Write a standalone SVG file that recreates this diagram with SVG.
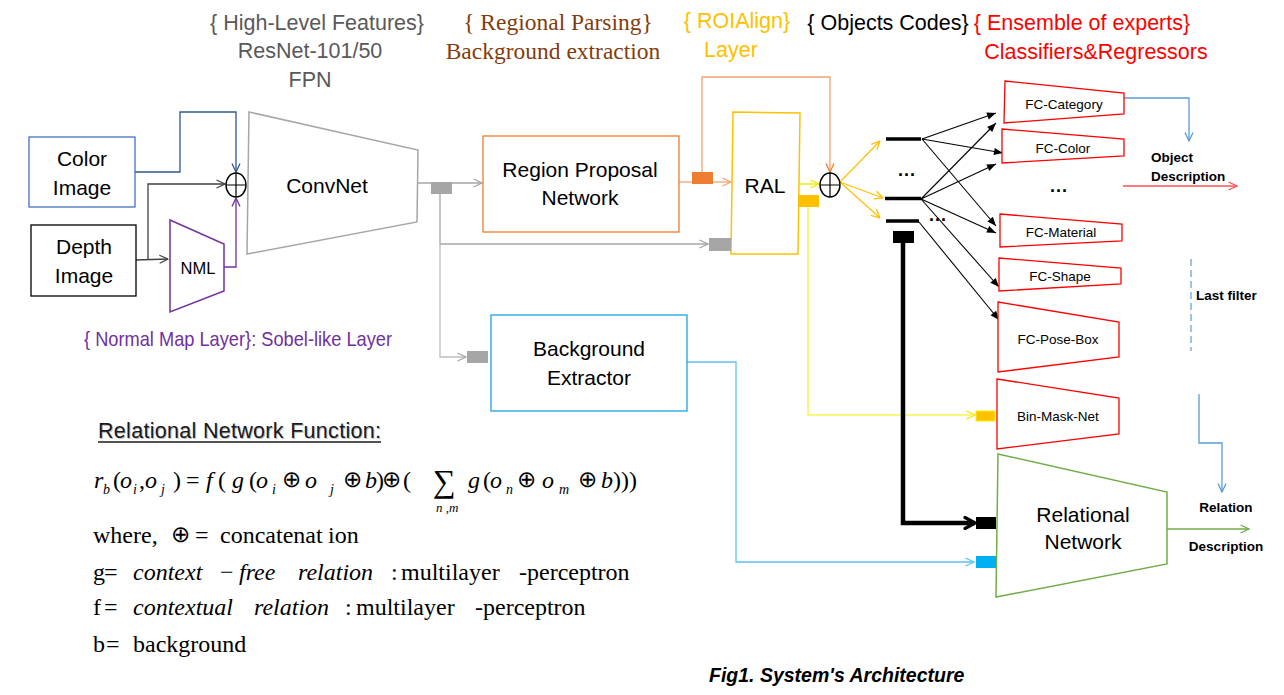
<svg xmlns="http://www.w3.org/2000/svg" width="1284" height="695" viewBox="0 0 1284 695">
<style>
.sans{font-family:"Liberation Sans",Arial,sans-serif;}
.lbl{font-family:"Liberation Sans",Arial,sans-serif;font-size:21px;fill:#000;text-anchor:middle;}
.fc{font-family:"Liberation Sans",Arial,sans-serif;font-size:13.5px;fill:#000;text-anchor:middle;}
.bold{font-family:"Liberation Sans",Arial,sans-serif;font-size:13.5px;font-weight:bold;fill:#000;}
.top{font-family:"Liberation Sans",Arial,sans-serif;font-size:21.5px;text-anchor:middle;}
.m{font-family:"Liberation Serif","Times New Roman","DejaVu Serif",serif;font-size:24px;fill:#000;}
.i{font-style:italic;}
.sub{font-size:14px;font-style:italic;}
.op{font-family:"DejaVu Sans",sans-serif;font-weight:200;font-size:23px;}
.fcbox{fill:#fff;stroke:#FF0000;stroke-width:1.3;}
.dots{font-family:"Liberation Sans",Arial,sans-serif;font-size:18px;font-weight:bold;fill:#000;text-anchor:middle;letter-spacing:1px;}
</style>
<defs>
<marker id="aGr" viewBox="0 0 10 10" refX="9.5" refY="5" markerWidth="10" markerHeight="10" markerUnits="userSpaceOnUse" orient="auto"><path d="M1,1 L9.5,5 L1,9" fill="none" stroke="#A6A6A6" stroke-width="1.3"/></marker>
<marker id="aDB" viewBox="0 0 10 10" refX="9.5" refY="5" markerWidth="10" markerHeight="10" markerUnits="userSpaceOnUse" orient="auto"><path d="M1,1 L9.5,5 L1,9" fill="none" stroke="#2F5597" stroke-width="1.3"/></marker>
<marker id="aK" viewBox="0 0 10 10" refX="9.5" refY="5" markerWidth="10" markerHeight="10" markerUnits="userSpaceOnUse" orient="auto"><path d="M1,1 L9.5,5 L1,9" fill="none" stroke="#404040" stroke-width="1.3"/></marker>
<marker id="aP" viewBox="0 0 10 10" refX="9.5" refY="5" markerWidth="10" markerHeight="10" markerUnits="userSpaceOnUse" orient="auto"><path d="M1,1 L9.5,5 L1,9" fill="none" stroke="#7030A0" stroke-width="1.3"/></marker>
<marker id="aO" viewBox="0 0 10 10" refX="9.5" refY="5" markerWidth="10" markerHeight="10" markerUnits="userSpaceOnUse" orient="auto"><path d="M1,1 L9.5,5 L1,9" fill="none" stroke="#F4A070" stroke-width="1.3"/></marker>
<marker id="aO2" viewBox="0 0 10 10" refX="9.5" refY="5" markerWidth="10" markerHeight="10" markerUnits="userSpaceOnUse" orient="auto"><path d="M1,1 L9.5,5 L1,9" fill="none" stroke="#ED7D31" stroke-width="1.3"/></marker>
<marker id="aY" viewBox="0 0 10 10" refX="9.5" refY="5" markerWidth="10" markerHeight="10" markerUnits="userSpaceOnUse" orient="auto"><path d="M1,1 L9.5,5 L1,9" fill="none" stroke="#F2E600" stroke-width="1.3"/></marker>
<marker id="aGold" viewBox="0 0 10 10" refX="9.5" refY="5" markerWidth="10" markerHeight="10" markerUnits="userSpaceOnUse" orient="auto"><path d="M1,1 L9.5,5 L1,9" fill="none" stroke="#FFC000" stroke-width="1.3"/></marker>
<marker id="aF" viewBox="0 0 10 10" refX="10" refY="5" markerWidth="10" markerHeight="9" markerUnits="userSpaceOnUse" orient="auto"><path d="M0,1 L10,5 L0,9 z" fill="#000"/></marker>
<marker id="aT" viewBox="0 0 14 14" refX="12" refY="7" markerWidth="14" markerHeight="14" markerUnits="userSpaceOnUse" orient="auto"><path d="M2,1.5 L12,7 L2,12.5" fill="none" stroke="#000" stroke-width="3.2" stroke-linecap="round" stroke-linejoin="round"/></marker>
<marker id="aC" viewBox="0 0 10 10" refX="9.5" refY="5" markerWidth="10" markerHeight="10" markerUnits="userSpaceOnUse" orient="auto"><path d="M1,1 L9.5,5 L1,9" fill="none" stroke="#5BC4EE" stroke-width="1.3"/></marker>
<marker id="aBl" viewBox="0 0 10 10" refX="9.5" refY="5" markerWidth="10" markerHeight="10" markerUnits="userSpaceOnUse" orient="auto"><path d="M1,1 L9.5,5 L1,9" fill="none" stroke="#5B9BD5" stroke-width="1.3"/></marker>
<marker id="aR" viewBox="0 0 10 10" refX="9.5" refY="5" markerWidth="10" markerHeight="10" markerUnits="userSpaceOnUse" orient="auto"><path d="M1,1 L9.5,5 L1,9" fill="none" stroke="#FF5050" stroke-width="1.3"/></marker>
<marker id="aGn" viewBox="0 0 10 10" refX="9.5" refY="5" markerWidth="10" markerHeight="10" markerUnits="userSpaceOnUse" orient="auto"><path d="M1,1 L9.5,5 L1,9" fill="none" stroke="#70AD47" stroke-width="1.3"/></marker>
</defs>
<rect width="1284" height="695" fill="#fff"/>

<g id="headers">
<text class="top" x="317" y="30" fill="#595959">{ High-Level Features}</text>
<text class="top" x="310" y="58" fill="#595959">ResNet-101/50</text>
<text class="top" x="310" y="87" fill="#595959">FPN</text>
<text x="558" y="30" font-family="Liberation Serif,'Times New Roman',serif" font-size="23.5" fill="#843C0C" text-anchor="middle">{ Regional Parsing}</text>
<text x="553" y="59" font-family="Liberation Serif,'Times New Roman',serif" font-size="23.5" fill="#843C0C" text-anchor="middle">Background extraction</text>
<text class="top" x="737" y="28" fill="#FFC000">{ ROIAlign}</text>
<text class="top" x="731" y="57" fill="#FFC000">Layer</text>
<text class="top" x="888" y="30" fill="#000">{ Objects Codes}</text>
<text class="top" x="1082" y="30" fill="#FF0000">{ Ensemble of experts}</text>
<text class="top" x="1096" y="59" fill="#FF0000">Classifiers&amp;Regressors</text>
<text x="84" y="346" font-family="Liberation Sans,Arial,sans-serif" font-size="21" fill="#7030A0" textLength="308" lengthAdjust="spacingAndGlyphs">{ Normal Map Layer}: Sobel-like Layer</text>
</g>

<g id="connectors" fill="none">
<path d="M135,172 H180 V112 H236 V172" stroke="#2F5597" stroke-width="1.3" marker-end="url(#aDB)"/>
<path d="M136,260 L168,259" stroke="#404040" stroke-width="1.3" marker-end="url(#aK)"/>
<path d="M148,260 V184 H225" stroke="#404040" stroke-width="1.3" marker-end="url(#aK)"/>
<path d="M224,267 H236 V198" stroke="#7030A0" stroke-width="1.3" marker-end="url(#aP)"/>
<path d="M417,183 H482" stroke="#A6A6A6" stroke-width="1.3" marker-end="url(#aGr)"/>
<path d="M440,194 V244 H708" stroke="#A6A6A6" stroke-width="1.3" marker-end="url(#aGr)"/>
<path d="M440,244 V357 H466" stroke="#BFBFBF" stroke-width="1.3" marker-end="url(#aGr)"/>
<path d="M679,182 H731" stroke="#F4B183" stroke-width="1.5" marker-end="url(#aO)"/>
<path d="M702,172 V77 H830 V172" stroke="#F4A070" stroke-width="1.3" marker-end="url(#aO2)"/>
<path d="M800,184 H819" stroke="#F2F200" stroke-width="1.5" marker-end="url(#aY)"/>
<path d="M808,207 V415 H975" stroke="#F2F200" stroke-width="1.1" marker-end="url(#aY)"/>
<path d="M840,182 L880,141" stroke="#FFC000" stroke-width="1.2" marker-end="url(#aGold)"/>
<path d="M840,182 L883,198" stroke="#FFC000" stroke-width="1.2" marker-end="url(#aGold)"/>
<path d="M840,182 L880,218" stroke="#FFC000" stroke-width="1.2" marker-end="url(#aGold)"/>
<g stroke="#000" stroke-width="1.1">
<path d="M922,139 L996,113" marker-end="url(#aF)"/>
<path d="M922,139 L1003,153" marker-end="url(#aF)"/>
<path d="M922,139 L996,226" marker-end="url(#aF)"/>
<path d="M921,199 L996,123" marker-end="url(#aF)"/>
<path d="M921,199 L996,164" marker-end="url(#aF)"/>
<path d="M921,199 L996,233" marker-end="url(#aF)"/>
<path d="M921,199 L999,287" marker-end="url(#aF)"/>
<path d="M919,222 L999,320" marker-end="url(#aF)"/>
</g>
<path d="M903,243 V523 H975" stroke="#000" stroke-width="4.5" marker-end="url(#aT)"/>
<path d="M687,362 H736 V562 H974" stroke="#5BC4EE" stroke-width="1.3" marker-end="url(#aC)"/>
<path d="M1124,98 H1189 V141" stroke="#5B9BD5" stroke-width="1.3" marker-end="url(#aBl)"/>
<path d="M1123,186 H1237" stroke="#FF5050" stroke-width="1.5" marker-end="url(#aR)"/>
<path d="M1191,259 V351" stroke="#5B9BD5" stroke-width="1.2" stroke-dasharray="7,4"/>
<path d="M1199,394 V443 H1222 V492" stroke="#5B9BD5" stroke-width="1.3" marker-end="url(#aBl)"/>
<path d="M1167,529 H1249" stroke="#70AD47" stroke-width="1.5" marker-end="url(#aGn)"/>
</g>

<g id="color-image">
<rect x="29" y="137" width="106" height="70" fill="#fff" stroke="#4472C4" stroke-width="1.3"/>
<text class="lbl" x="82" y="166">Color</text>
<text class="lbl" x="82" y="195">Image</text>
</g>
<g id="depth-image">
<rect x="31" y="225" width="105" height="71" fill="#fff" stroke="#000" stroke-width="1.3"/>
<text class="lbl" x="84" y="254">Depth</text>
<text class="lbl" x="84" y="283">Image</text>
</g>
<g id="nml">
<path d="M170,220 L224,244 L224,291 L170,312 Z" fill="#fff" stroke="#7030A0" stroke-width="1.5"/>
<text x="198" y="274" font-family="Liberation Sans,Arial,sans-serif" font-size="16.5" text-anchor="middle">NML</text>
</g>
<g id="concat1">
<ellipse cx="236" cy="185" rx="10" ry="12" fill="#fff" stroke="#000" stroke-width="1.4"/>
<path d="M226,185 H246 M236,173 V197" stroke="#000" stroke-width="1.2"/>
</g>
<g id="convnet">
<path d="M249,112 L418,150 L417,222 L247,254 Z" fill="#fff" stroke="#A6A6A6" stroke-width="1.5"/>
<text class="lbl" x="327" y="193">ConvNet</text>
</g>
<g id="grey-port1"><rect x="431" y="182" width="21" height="12" fill="#A6A6A6"/></g>
<g id="rpn">
<rect x="483" y="136" width="196" height="96" fill="#fff" stroke="#ED7D31" stroke-width="1.3"/>
<text class="lbl" x="580" y="177">Region Proposal</text>
<text class="lbl" x="580" y="205">Network</text>
</g>
<g id="orange-port"><rect x="692" y="172" width="21" height="12" fill="#ED7D31"/></g>
<g id="ral">
<path d="M733,112 L800,113 L798,254 L731,254 Z" fill="#fff" stroke="#FFC000" stroke-width="1.5"/>
<text class="lbl" x="765" y="193">RAL</text>
</g>
<g id="grey-port2"><rect x="709" y="238" width="22" height="13" fill="#A6A6A6"/></g>
<g id="gold-port"><rect x="798" y="195" width="21" height="12" fill="#FFC000"/></g>
<g id="concat2">
<ellipse cx="830" cy="185" rx="10" ry="12" fill="#fff" stroke="#000" stroke-width="1.4"/>
<path d="M820,185 H840 M830,173 V197" stroke="#000" stroke-width="1.2"/>
</g>
<g id="object-codes">
<path d="M886,139 H921 M885,198.5 H921 M886,221 H919" stroke="#000" stroke-width="3.5"/>
<text class="dots" x="907" y="176">...</text>
<text class="dots" x="938" y="221">...</text>
<rect x="893" y="231" width="21" height="12" fill="#000"/>
</g>
<g id="background-extractor">
<rect x="491" y="315" width="196" height="96" fill="#fff" stroke="#1AA3E0" stroke-width="1.3"/>
<text class="lbl" x="589" y="356">Background</text>
<text class="lbl" x="589" y="385">Extractor</text>
</g>
<g id="grey-port3"><rect x="467" y="351" width="21" height="12" fill="#A6A6A6"/></g>
<g id="fc-category">
<path d="M1005,81 L1124,93 L1124,114 L1004,123 Z" class="fcbox"/>
<text class="fc" x="1064" y="109">FC-Category</text>
</g>
<g id="fc-color">
<path d="M1002,129 L1124,139 L1124,156 L1002,163 Z" class="fcbox"/>
<text class="fc" x="1063" y="153">FC-Color</text>
</g>
<text class="dots" x="1059" y="192">...</text>
<g id="fc-material">
<path d="M1000,214 L1122,224 L1122,241 L1000,247 Z" class="fcbox"/>
<text class="fc" x="1061" y="237">FC-Material</text>
</g>
<g id="fc-shape">
<path d="M999,258 L1121,268 L1121,284 L999,291 Z" class="fcbox"/>
<text class="fc" x="1060" y="281">FC-Shape</text>
</g>
<g id="fc-pose-box">
<path d="M998,302 L1119,322 L1119,357 L998,372 Z" class="fcbox"/>
<text class="fc" x="1058" y="344">FC-Pose-Box</text>
</g>
<g id="bin-mask-net">
<path d="M997,379 L1119,398 L1119,434 L997,449 Z" class="fcbox"/>
<text class="fc" x="1058" y="421">Bin-Mask-Net</text>
<rect x="976" y="411" width="19" height="10" fill="#FFC000" stroke="#F2F200" stroke-width="1"/>
</g>
<g id="relational-network">
<path d="M998,454 L1167,492 L1167,564 L996,597 Z" fill="#fff" stroke="#70AD47" stroke-width="1.5"/>
<text class="lbl" x="1083" y="522">Relational</text>
<text class="lbl" x="1083" y="549">Network</text>
<rect x="976" y="517" width="20" height="12" fill="#000"/>
<rect x="976" y="556" width="20" height="12" fill="#00B0F0"/>
</g>
<g id="outputs">
<text class="bold" x="1151" y="162">Object</text>
<text class="bold" x="1151" y="181">Description</text>
<text class="bold" x="1196" y="300">Last filter</text>
<text class="bold" x="1226" y="512" text-anchor="middle">Relation</text>
<text class="bold" x="1226" y="551" text-anchor="middle">Description</text>
</g>

<g id="formula">
<text x="99" y="439" font-family="Liberation Sans,Arial,sans-serif" font-size="21.5" fill="#BFBFBF" textLength="283">Relational Network Function:</text>
<text x="98" y="438" font-family="Liberation Sans,Arial,sans-serif" font-size="21.5" fill="#1a1a1a" textLength="283">Relational Network Function:</text>
<line x1="98" y1="442" x2="381" y2="442" stroke="#1a1a1a" stroke-width="1.5"/>
<text class="m" y="488">
<tspan x="94" class="i">r</tspan><tspan x="103" y="494" class="sub">b</tspan><tspan x="113" y="488">(</tspan><tspan x="120" class="i">o</tspan><tspan x="133" y="494" class="sub">i</tspan><tspan x="139" y="488">,</tspan><tspan x="145" class="i">o</tspan><tspan x="161" y="494" class="sub">j</tspan><tspan x="173" y="488">)</tspan><tspan x="186">=</tspan><tspan x="206" class="i">f</tspan><tspan x="218">(</tspan><tspan x="232" class="i">g</tspan><tspan x="249">(</tspan><tspan x="256" class="i">o</tspan><tspan x="272" y="494" class="sub">i</tspan><tspan x="282" y="487" class="op">⊕</tspan><tspan x="305" y="488" class="i">o</tspan><tspan x="330" y="494" class="sub">j</tspan><tspan x="343" y="487" class="op">⊕</tspan><tspan x="365" y="488" class="i">b</tspan><tspan x="376">)</tspan><tspan x="382" y="487" class="op">⊕</tspan><tspan x="403" y="488">(</tspan><tspan x="468" class="i">g</tspan><tspan x="483">(</tspan><tspan x="490" class="i">o</tspan><tspan x="506" y="494" class="sub">n</tspan><tspan x="517" y="487" class="op">⊕</tspan><tspan x="542" y="488" class="i">o</tspan><tspan x="559" y="494" class="sub">m</tspan><tspan x="578" y="487" class="op">⊕</tspan><tspan x="601" y="488" class="i">b</tspan><tspan x="613">)))</tspan>
</text>
<text x="433" y="492" font-family="Liberation Serif,'Times New Roman',serif" font-size="32">∑</text>
<text x="436" y="512" font-family="Liberation Serif,'Times New Roman',serif" font-size="13" font-style="italic">n ,m</text>
<text class="m" y="543"><tspan x="93">where,</tspan><tspan x="171" y="542" class="op">⊕</tspan><tspan x="195" y="543">=</tspan><tspan x="220">concatenat</tspan><tspan x="328">ion</tspan></text>
<text class="m" y="580"><tspan x="93">g</tspan><tspan x="104">=</tspan><tspan x="133" class="i">context</tspan><tspan x="220">−</tspan><tspan x="239" class="i">free</tspan><tspan x="298" class="i">relation</tspan><tspan x="391">:</tspan><tspan x="401">multilayer</tspan><tspan x="519">-</tspan><tspan x="527">perceptron</tspan></text>
<text class="m" y="615"><tspan x="93">f</tspan><tspan x="104">=</tspan><tspan x="133" class="i">contextual</tspan><tspan x="254" class="i">relation</tspan><tspan x="345">:</tspan><tspan x="356">multilayer</tspan><tspan x="475">-</tspan><tspan x="483">perceptron</tspan></text>
<text class="m" y="652"><tspan x="93">b</tspan><tspan x="106">=</tspan><tspan x="133">background</tspan></text>
</g>

<text x="709" y="682" font-family="Liberation Sans,Arial,sans-serif" font-size="19.5" font-weight="bold" font-style="italic" fill="#000">Fig1. System's Architecture</text>
</svg>
